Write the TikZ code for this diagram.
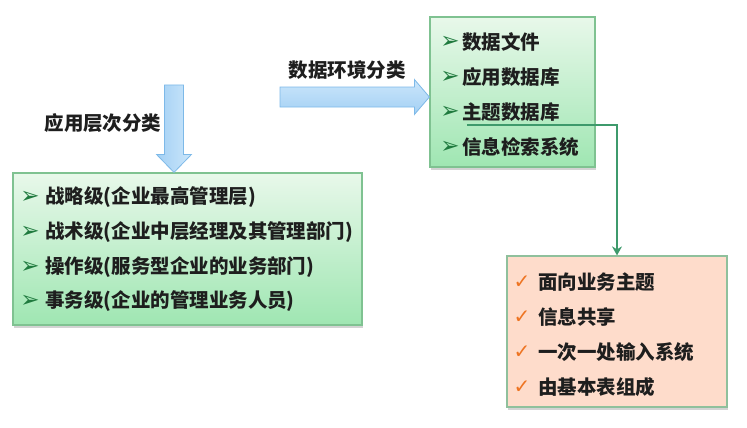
\documentclass[tikz,border=0pt]{standalone}
\usepackage{fontspec}
\setmainfont{Noto Sans CJK SC}
\newfontfamily\symfont{DejaVu Sans}
\usetikzlibrary{arrows.meta,positioning,calc,shadows}
\definecolor{dsTop}{HTML}{E8F8EA}
\definecolor{dsBottom}{HTML}{9FE6B2}
\definecolor{dsEdge}{HTML}{7FC291}
\definecolor{dsOrange}{HTML}{FEDCCB}
\definecolor{dsOrEdge}{HTML}{8FC09C}
\definecolor{dsBlue}{HTML}{A3D0F4}
\definecolor{dsBlueLt}{HTML}{CBE6FB}
\definecolor{dsBlueEdge}{HTML}{7DB9E8}
\definecolor{dsLink}{HTML}{3E9A6C}
\definecolor{dsBullet}{HTML}{1F7A3E}
\definecolor{dsCheck}{HTML}{EE7422}
\definecolor{dsText}{HTML}{1E1E1E}
\tikzset{
  box/.style={
    draw=dsEdge, line width=1.2pt, inner sep=0pt,
    drop shadow={shadow xshift=1pt, shadow yshift=-2.5pt, opacity=.35}
  },
  dsbox/.style={box, top color=dsTop, bottom color=dsBottom},
  tsbox/.style={box, draw=dsOrEdge, fill=dsOrange},
  item/.style={anchor=west, inner sep=0pt, text=dsText,
    font=\fontsize{19.5pt}{22pt}\selectfont\bfseries},
  lbl/.style={item, anchor=center},
  pointer/.style={inner sep=0pt, text=dsBullet, font=\symfont\fontsize{23pt}{26pt}\selectfont},
  tick/.style={inner sep=0pt, text=dsCheck, font=\symfont\fontsize{20pt}{23pt}\selectfont},
  blockarrow/.style={draw=dsBlueEdge, line width=0.8pt, line join=miter},
  link/.style={-{Stealth[length=9pt, width=10pt]}, line width=2.5pt, dsLink}
}
\begin{document}
\begin{tikzpicture}[x=1pt, y=-1pt]
  \useasboundingbox (0,0) rectangle (747,428);

  % boxes
  \node[dsbox, minimum width=349pt, minimum height=152pt] (lb) at (187.5,249) {};
  \node[dsbox, minimum width=165pt, minimum height=150pt] (tb) at (512.5,92) {};
  \node[tsbox, minimum width=220pt, minimum height=151pt] (ob) at (617,331.5) {};

  % levels of use
  \foreach \y/\name [count=\i] in {197/战略级(企业最高管理层), 232/战术级(企业中层经理及其管理部门),
      267/操作级(服务型企业的业务部门), 301/事务级(企业的管理业务人员)}{
    \node[pointer] at (30,\y) {➢};
    \node[item] (l\i) at (45,\y) {\name};
  }

  % data environment
  \foreach \y/\name [count=\i] in {42/数据文件, 77/应用数据库, 112/主题数据库, 147/信息检索系统}{
    \node[pointer] at (450,\y) {➢};
    \node[item] (t\i) at (462,\y) {\name};
  }

  % subject database
  \foreach \y/\name [count=\i] in {282/面向业务主题, 317/信息共享, 352/一次一处输入系统, 387/由基本表组成}{
    \node[tick] at (522,\y) {✓};
    \node[item] (o\i) at (538,\y) {\name};
  }

  % labels
  \node[lbl] (lvlab) at (103,123) {应用层次分类};
  \node[lbl] (envlab) at (347,70) {数据环境分类};

  % block arrows
  \coordinate (dtop) at (174,85);
  \coordinate (dtip) at (dtop |- lb.north);
  \shade[blockarrow, left color=dsBlue, right color=dsBlueLt]
    ($(dtop)+(-9.5,0)$) -- ($(dtip)+(-9.5,-18)$) -- ($(dtip)+(-17.5,-18)$) -- (dtip)
    -- ($(dtip)+(17.5,-18)$) -- ($(dtip)+(9.5,-18)$) -- ($(dtop)+(9.5,0)$) -- cycle;
  \coordinate (rtail) at (280,97);
  \coordinate (rtip) at (rtail -| tb.west);
  \shade[blockarrow, top color=dsBlueLt, bottom color=dsBlue]
    ($(rtail)+(0,-10)$) -- ($(rtip)+(-15,-10)$) -- ($(rtip)+(-15,-17.5)$) -- (rtip)
    -- ($(rtip)+(-15,17.5)$) -- ($(rtip)+(-15,10)$) -- ($(rtail)+(0,10)$) -- cycle;

  % link to subject database
  \draw[link] ([xshift=5pt, yshift=-3.5pt]t3.south west) -| (ob.north);
\end{tikzpicture}
\end{document}
